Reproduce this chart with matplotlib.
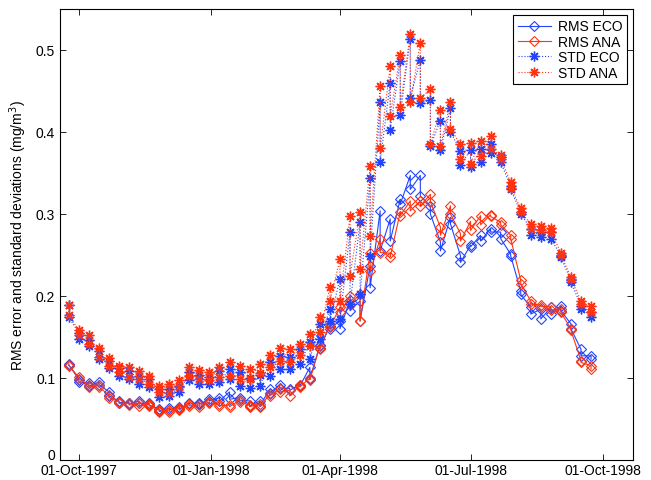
import numpy as np
import matplotlib
matplotlib.use('Agg')
import matplotlib.pyplot as plt
import matplotlib.dates as mdates
import matplotlib.transforms as mtransforms
from datetime import datetime, timedelta

plt.rcParams['font.family'] = ['Liberation Sans', 'DejaVu Sans']

# weekly dates, two values per week for each series
start = datetime(1997, 9, 24)
n_weeks = 53
dates = [start + timedelta(days=7 * k) for k in range(n_weeks)]

std_ana_a = [0.189, 0.158, 0.152, 0.137, 0.124, 0.115, 0.114, 0.109, 0.102, 0.090,
             0.093, 0.097, 0.113, 0.110, 0.107, 0.114, 0.119, 0.115, 0.111, 0.117,
             0.128, 0.136, 0.135, 0.141, 0.154, 0.174, 0.211, 0.245, 0.298, 0.302,
             0.359, 0.456, 0.481, 0.494, 0.520, 0.509, 0.452, 0.427, 0.436, 0.385,
             0.387, 0.389, 0.395, 0.372, 0.339, 0.307, 0.288, 0.285, 0.283, 0.253,
             0.223, 0.194, 0.188]
std_ana_b = [0.177, 0.152, 0.142, 0.126, 0.115, 0.107, 0.101, 0.099, 0.093, 0.083,
             0.082, 0.089, 0.102, 0.099, 0.097, 0.101, 0.103, 0.099, 0.099, 0.106,
             0.113, 0.121, 0.120, 0.128, 0.139, 0.156, 0.194, 0.194, 0.225, 0.233,
             0.273, 0.380, 0.420, 0.431, 0.436, 0.441, 0.385, 0.383, 0.404, 0.367,
             0.361, 0.371, 0.379, 0.367, 0.332, 0.302, 0.282, 0.280, 0.278, 0.250,
             0.221, 0.190, 0.180]
std_eco_a = [0.189, 0.155, 0.146, 0.133, 0.121, 0.112, 0.109, 0.103, 0.099, 0.086,
             0.087, 0.090, 0.107, 0.104, 0.101, 0.108, 0.111, 0.107, 0.100, 0.104,
             0.119, 0.127, 0.126, 0.135, 0.144, 0.166, 0.184, 0.221, 0.278, 0.290,
             0.344, 0.437, 0.460, 0.487, 0.514, 0.488, 0.439, 0.414, 0.429, 0.377,
             0.378, 0.379, 0.385, 0.370, 0.334, 0.302, 0.282, 0.278, 0.278, 0.249,
             0.219, 0.188, 0.180]
std_eco_b = [0.174, 0.148, 0.139, 0.123, 0.112, 0.103, 0.099, 0.093, 0.089, 0.077,
             0.078, 0.083, 0.097, 0.093, 0.093, 0.095, 0.099, 0.090, 0.088, 0.090,
             0.102, 0.111, 0.111, 0.117, 0.123, 0.148, 0.170, 0.172, 0.190, 0.202,
             0.249, 0.364, 0.403, 0.421, 0.442, 0.435, 0.383, 0.378, 0.400, 0.360,
             0.357, 0.363, 0.375, 0.363, 0.330, 0.300, 0.274, 0.272, 0.270, 0.247,
             0.217, 0.184, 0.174]
rms_ana_a = [0.116, 0.101, 0.091, 0.091, 0.079, 0.071, 0.069, 0.069, 0.068, 0.061,
             0.061, 0.063, 0.068, 0.067, 0.071, 0.068, 0.067, 0.073, 0.067, 0.068,
             0.080, 0.087, 0.085, 0.091, 0.100, 0.139, 0.166, 0.186, 0.200, 0.202,
             0.253, 0.270, 0.252, 0.302, 0.316, 0.316, 0.324, 0.284, 0.310, 0.276,
             0.291, 0.298, 0.299, 0.290, 0.274, 0.219, 0.194, 0.189, 0.187, 0.184,
             0.160, 0.121, 0.115]
rms_ana_b = [0.115, 0.099, 0.089, 0.089, 0.076, 0.069, 0.067, 0.066, 0.066, 0.059,
             0.059, 0.061, 0.066, 0.065, 0.069, 0.066, 0.065, 0.071, 0.065, 0.065,
             0.078, 0.083, 0.078, 0.089, 0.098, 0.135, 0.162, 0.180, 0.190, 0.169,
             0.230, 0.253, 0.248, 0.298, 0.304, 0.310, 0.315, 0.274, 0.300, 0.267,
             0.280, 0.287, 0.297, 0.287, 0.270, 0.215, 0.190, 0.187, 0.183, 0.180,
             0.158, 0.119, 0.111]
rms_eco_a = [0.117, 0.098, 0.094, 0.095, 0.083, 0.072, 0.070, 0.072, 0.069, 0.062,
             0.063, 0.065, 0.070, 0.070, 0.074, 0.076, 0.083, 0.076, 0.072, 0.072,
             0.086, 0.091, 0.087, 0.092, 0.113, 0.140, 0.164, 0.170, 0.195, 0.194,
             0.237, 0.304, 0.294, 0.318, 0.347, 0.347, 0.310, 0.266, 0.296, 0.249,
             0.262, 0.274, 0.282, 0.278, 0.251, 0.206, 0.186, 0.184, 0.186, 0.188,
             0.166, 0.135, 0.127]
rms_eco_b = [0.116, 0.095, 0.090, 0.092, 0.078, 0.070, 0.068, 0.069, 0.067, 0.060,
             0.061, 0.062, 0.068, 0.068, 0.072, 0.072, 0.074, 0.073, 0.066, 0.066,
             0.082, 0.088, 0.085, 0.090, 0.099, 0.136, 0.160, 0.160, 0.182, 0.170,
             0.210, 0.255, 0.267, 0.312, 0.330, 0.322, 0.300, 0.255, 0.288, 0.241,
             0.260, 0.267, 0.278, 0.270, 0.249, 0.202, 0.178, 0.172, 0.178, 0.182,
             0.160, 0.127, 0.123]


def pairs(a, b):
    return np.column_stack([a, b]).ravel()


x = np.repeat(np.array(dates, dtype='datetime64[D]'), 2)

blue = '#2244ff'
red = '#ff3311'
star = (8, 2, 0)

fig = plt.figure(figsize=(6.51, 4.81), dpi=100)
ax = fig.add_axes([60 / 651, 20 / 481, 573 / 651, 451 / 481])

ax.plot(x, pairs(rms_eco_a, rms_eco_b), '-', color=blue, lw=0.8,
        marker='D', ms=5.5, mfc='none', mec=blue, mew=0.8, label='RMS ECO')
ax.plot(x, pairs(rms_ana_a, rms_ana_b), '-', color=red, lw=0.8,
        marker='D', ms=5.5, mfc='none', mec=red, mew=0.8, label='RMS ANA')
ax.plot(x, pairs(std_eco_a, std_eco_b), ':', color=blue, lw=0.8,
        marker=star, ms=7, mec=blue, mew=1.0, label='STD ECO')
ax.plot(x, pairs(std_ana_a, std_ana_b), ':', color=red, lw=0.8,
        marker=star, ms=7, mec=red, mew=1.0, label='STD ANA')

ax.set_xlim(datetime(1997, 9, 17, 20), datetime(1998, 10, 22, 6))
ax.set_ylim(0, 0.55)
ax.set_yticks([0, 0.1, 0.2, 0.3, 0.4, 0.5])
ax.set_yticklabels(['0', '0.1', '0.2', '0.3', '0.4', '0.5'])
ax.set_xticks([datetime(1997, 10, 1), datetime(1998, 1, 1), datetime(1998, 4, 1),
               datetime(1998, 7, 1), datetime(1998, 10, 1)])
ax.xaxis.set_major_formatter(mdates.DateFormatter('%d-%b-%Y'))
ax.tick_params(direction='in', top=True, right=True, labelsize=10, length=4, width=0.6)
ax.tick_params(axis='x', pad=2.5)
for s in ax.spines.values():
    s.set_linewidth(0.8)

# lift the "0" label a little, as in the original, so it clears the date labels
zero_lbl = ax.get_yticklabels()[0]
zero_lbl.set_transform(zero_lbl.get_transform() +
                       mtransforms.ScaledTranslation(0, 5 / 72, fig.dpi_scale_trans))

ax.set_ylabel('RMS error and standard deviations (mg/m$^3$)', fontsize=10, labelpad=5)

leg = ax.legend(loc='upper right', fontsize=10, fancybox=False, edgecolor='black',
                framealpha=1, borderaxespad=0.4, handlelength=2.4, labelspacing=0.1,
                borderpad=0.35, handletextpad=0.5)
leg.get_frame().set_linewidth(0.8)

fig.savefig('out.png', dpi=100, facecolor='white')
